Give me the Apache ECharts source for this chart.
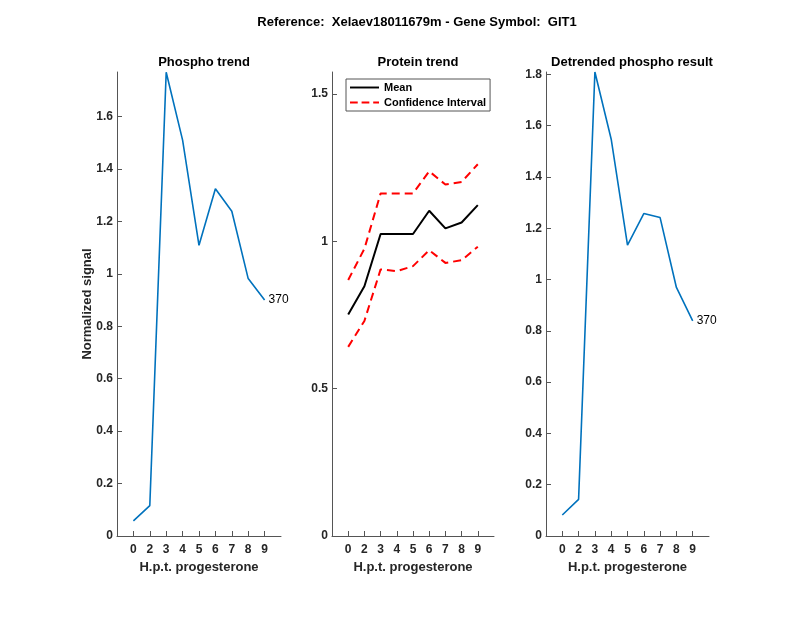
<!DOCTYPE html>
<html><head><meta charset="utf-8">
<script src="https://cdn.jsdelivr.net/npm/echarts@6/dist/echarts.min.js"></script>
<style>html,body{margin:0;padding:0;background:#fff}#c{width:800px;height:618px}</style>
</head><body><div id="c"></div>
<script>
const timeLabels = ['0','2','3','4','5','6','7','8','9'];
const phosphoTrend = [0.058, 0.116, 1.769, 1.51, 1.109, 1.325, 1.239, 0.982, 0.900];
const proteinMean = [0.752, 0.848, 1.025, 1.025, 1.025, 1.104, 1.044, 1.064, 1.123];
const proteinUpper = [0.869, 0.975, 1.163, 1.163, 1.163, 1.238, 1.193, 1.202, 1.262];
const proteinLower = [0.642, 0.730, 0.905, 0.899, 0.916, 0.970, 0.927, 0.936, 0.982];
const detrended = [0.082, 0.143, 1.809, 1.547, 1.134, 1.257, 1.2415, 0.969, 0.839];
const endLabelText = '370';
const yTicks1 = [0, 0.2, 0.4, 0.6, 0.8, 1, 1.2, 1.4, 1.6];
const yTicks2 = [0, 0.5, 1, 1.5];
const yTicks3 = [0, 0.2, 0.4, 0.6, 0.8, 1, 1.2, 1.4, 1.6, 1.8];

const FONT = '"Liberation Sans", Arial, Helvetica, sans-serif';
const AX = '#262626';
const xPos = timeLabels.map((_, i) => i + 1);
const toPts = arr => arr.map((v, i) => [xPos[i], v]);
const endLab = {show: true, formatter: endLabelText, distance: 4, color: '#000', fontFamily: FONT, fontSize: 12, fontWeight: 'normal'};
const solidIcon = 'path://M0,0h30v2h-30z';
const dashIcon = 'path://M0,0h8v2h-8z M12,0h8v2h-8z M24,0h6v2h-6z';

function xAxis(gi) {
  return {
    type: 'value', gridIndex: gi, min: 0, max: xPos.length + 1,
    axisLine: {lineStyle: {color: '#555', width: 1}},
    axisTick: {inside: true, length: 5, lineStyle: {color: '#555'}, customValues: xPos},
    axisLabel: {customValues: xPos, formatter: v => timeLabels[v - 1] ?? '', color: AX, fontFamily: FONT, fontSize: 12, fontWeight: 'bold', margin: 8},
    splitLine: {show: false},
    name: 'H.p.t. progesterone', nameLocation: 'middle', nameGap: 25, nameMoveOverlap: false,
    nameTextStyle: {color: AX, fontFamily: FONT, fontSize: 13, fontWeight: 'bold'}
  };
}
function yAxis(gi, max, ticks, name) {
  const o = {
    type: 'value', gridIndex: gi, min: 0, max: max,
    axisLine: {show: true, lineStyle: {color: '#555', width: 1}},
    axisTick: {show: true, inside: true, length: 5, lineStyle: {color: '#555'}, customValues: ticks},
    axisLabel: {customValues: ticks, formatter: v => (v === 0 || v === 1) ? String(v) : v.toFixed(1),
                color: AX, fontFamily: FONT, fontSize: 12, fontWeight: 'bold', margin: 4},
    splitLine: {show: false}
  };
  if (name) {
    o.name = name; o.nameLocation = 'middle'; o.nameGap = 23; o.nameRotate = 90; o.nameMoveOverlap = false;
    o.nameTextStyle = {color: AX, fontFamily: FONT, fontSize: 13, fontWeight: 'bold'};
  }
  return o;
}

const chart = echarts.init(document.getElementById('c'), null, {renderer: 'canvas'});
chart.setOption({
  backgroundColor: '#fff',
  animation: false,
  title: [
    {text: 'Reference:  Xelaev18011679m - Gene Symbol:  GIT1', left: 412, top: 11, textAlign: 'center',
     textStyle: {fontFamily: FONT, fontSize: 13, fontWeight: 'bold', color: '#000'}},
    {text: 'Phospho trend', left: 199, top: 51, textAlign: 'center', textStyle: {fontFamily: FONT, fontSize: 13, fontWeight: 'bold', color: '#000'}},
    {text: 'Protein trend', left: 413, top: 51, textAlign: 'center', textStyle: {fontFamily: FONT, fontSize: 13, fontWeight: 'bold', color: '#000'}},
    {text: 'Detrended phospho result', left: 627, top: 51, textAlign: 'center', textStyle: {fontFamily: FONT, fontSize: 13, fontWeight: 'bold', color: '#000'}}
  ],
  legend: {
    left: 346, top: 79, orient: 'vertical', itemWidth: 29, itemHeight: 2, itemGap: 4,
    padding: [3, 4, 3, 4], borderColor: '#555', borderWidth: 1, backgroundColor: '#fff', borderRadius: 0,
    data: [{name: 'Mean', icon: solidIcon}, {name: 'Confidence Interval', icon: dashIcon}],
    textStyle: {fontFamily: FONT, fontSize: 11, fontWeight: 'bold', color: '#000'}
  },
  grid: [
    {left: 117, top: 72, width: 164, height: 464},
    {left: 332, top: 72, width: 162, height: 464},
    {left: 546, top: 72, width: 163, height: 464}
  ],
  xAxis: [xAxis(0), xAxis(1), xAxis(2)],
  yAxis: [
    yAxis(0, 1.77, yTicks1, 'Normalized signal'),
    yAxis(1, 1.575, yTicks2),
    yAxis(2, 1.809, yTicks3)
  ],
  series: [
    {type: 'line', xAxisIndex: 0, yAxisIndex: 0, data: toPts(phosphoTrend), symbol: 'none', lineStyle: {color: '#0072BD', width: 1.6}, itemStyle: {color: '#0072BD'}, endLabel: endLab},
    {name: 'Mean', type: 'line', xAxisIndex: 1, yAxisIndex: 1, data: toPts(proteinMean), symbol: 'none', lineStyle: {color: '#000', width: 2}, itemStyle: {color: '#000'}},
    {name: 'Confidence Interval', type: 'line', xAxisIndex: 1, yAxisIndex: 1, data: toPts(proteinUpper), symbol: 'none', lineStyle: {color: '#FF0000', width: 2, type: [8, 5]}, itemStyle: {color: '#FF0000'}},
    {name: 'Confidence Interval', type: 'line', xAxisIndex: 1, yAxisIndex: 1, data: toPts(proteinLower), symbol: 'none', lineStyle: {color: '#FF0000', width: 2, type: [8, 5]}, itemStyle: {color: '#FF0000'}},
    {type: 'line', xAxisIndex: 2, yAxisIndex: 2, data: toPts(detrended), symbol: 'none', lineStyle: {color: '#0072BD', width: 1.6}, itemStyle: {color: '#0072BD'}, endLabel: endLab}
  ]
});
</script></body></html>
